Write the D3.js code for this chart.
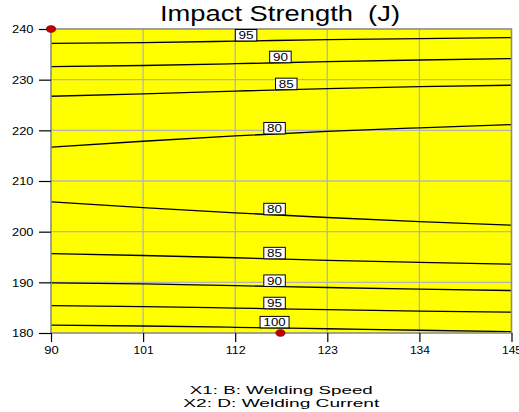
<!DOCTYPE html>
<html>
<head>
<meta charset="utf-8">
<script src="https://cdn.jsdelivr.net/npm/d3@7"></script>
<style>
  body { margin: 0; background: #fff; }
  svg { display: block; }
  text { font-family: "Liberation Sans", Arial, sans-serif; fill: #000; }
</style>
</head>
<body>
<svg id="chart" width="519" height="412"></svg>
<script>
// Axis ticks
const speedTicks = [90, 101, 112, 123, 134, 145];
const currentTicks = [180, 190, 200, 210, 220, 230, 240];

// Welding speeds at which each contour trace is sampled
const traceSpeeds = [90, 101, 112, 123, 134, 145];

// Impact strength contour levels (J), top to bottom
const contourLevels = [95, 90, 85, 80, 80, 85, 90, 95, 100];

// Welding current of each contour at the sampled speeds
const contourCurrents = [
  [237.18, 237.33, 237.60, 237.90, 238.12, 238.30],
  [232.56, 232.80, 233.15, 233.55, 233.88, 234.14],
  [226.73, 227.20, 227.75, 228.25, 228.62, 228.90],
  [216.67, 217.85, 218.90, 219.80, 220.50, 221.12],
  [205.88, 204.75, 203.72, 202.80, 202.00, 201.28],
  [195.68, 195.30, 194.85, 194.35, 193.95, 193.59],
  [189.90, 189.68, 189.35, 188.98, 188.64, 188.38],
  [185.42, 185.22, 184.92, 184.60, 184.32, 184.12],
  [181.54, 181.38, 181.13, 180.84, 180.54, 180.27]
];

// Speed at which each contour's value tag is placed
const labelSpeeds = [113.3, 117.4, 118.1, 116.7, 116.7, 116.7, 116.7, 116.7, 116.7];

// Design points (speed, current)
const designSpeeds = [90, 117.4];
const designCurrents = [240, 180];

const svg = d3.select("#chart");

const x = d3.scaleLinear().domain([90, 145]).range([51, 511.5]);
const y = d3.scaleLinear().domain([180, 240]).range([333, 29]);

// Plot background
svg.append("rect")
  .attr("x", x(90)).attr("y", y(240))
  .attr("width", x(145) - x(90)).attr("height", y(180) - y(240))
  .attr("fill", "#ffff00");

// Grid
const grid = svg.append("g").attr("stroke", "#b4b4b4").attr("stroke-width", 1.3);
grid.selectAll("line.v").data(speedTicks.slice(1, -1)).join("line")
  .attr("x1", d => x(d)).attr("x2", d => x(d))
  .attr("y1", y(240)).attr("y2", y(180));
grid.selectAll("line.h").data(currentTicks.slice(1, -1)).join("line")
  .attr("x1", x(90)).attr("x2", x(145))
  .attr("y1", d => y(d)).attr("y2", d => y(d));

// Contour traces
const line = d3.line()
  .x((d, i) => x(traceSpeeds[i]))
  .y(d => y(d))
  .curve(d3.curveMonotoneX);

svg.append("g")
  .selectAll("path").data(contourCurrents).join("path")
  .attr("d", line)
  .attr("fill", "none")
  .attr("stroke", "#000")
  .attr("stroke-width", 1.3);

// Plot frame
svg.append("rect")
  .attr("x", x(90)).attr("y", y(240))
  .attr("width", x(145) - x(90)).attr("height", y(180) - y(240))
  .attr("fill", "none")
  .attr("stroke", "#8c8c8c")
  .attr("stroke-width", 1.6);

// Contour value tags, resting on their trace
const currentAt = (row, s) => d3.scaleLinear().domain(traceSpeeds).range(row)(s);
const tags = svg.append("g").selectAll("g").data(contourLevels).join("g")
  .attr("transform", (d, i) => {
    const cx = x(labelSpeeds[i]);
    const cy = y(currentAt(contourCurrents[i], labelSpeeds[i]));
    return `translate(${cx},${cy})`;
  });
tags.append("rect")
  .attr("x", d => String(d).length > 2 ? -14.5 : -10.75)
  .attr("y", -11.5)
  .attr("width", d => String(d).length > 2 ? 29 : 21.5)
  .attr("height", 11.5)
  .attr("fill", "#fff")
  .attr("stroke", "#000")
  .attr("stroke-width", 1);
tags.append("text")
  .attr("text-anchor", "middle")
  .attr("y", -1.6)
  .attr("font-size", 10.5)
  .attr("textLength", d => String(d).length > 2 ? 22 : 15)
  .attr("lengthAdjust", "spacingAndGlyphs")
  .text(d => d);

// Y axis
const yAxis = svg.append("g")
  .attr("transform", `translate(${x(90)},0)`)
  .call(d3.axisLeft(y).tickValues(currentTicks).tickSize(12).tickPadding(5).tickFormat(d3.format("d")));
yAxis.select(".domain").remove();
yAxis.selectAll(".tick line").attr("stroke", "#000").attr("stroke-width", 1.2);
yAxis.selectAll(".tick text")
  .attr("x", -17.5)
  .attr("dy", "0.36em")
  .attr("font-size", 10.5)
  .attr("font-family", "Liberation Sans, Arial, sans-serif")
  .attr("textLength", 21.5)
  .attr("lengthAdjust", "spacingAndGlyphs");

// X axis
const xAxis = svg.append("g")
  .attr("transform", `translate(0,${y(180)})`)
  .call(d3.axisBottom(x).tickValues(speedTicks).tickSize(9).tickPadding(5).tickFormat(d3.format("d")));
xAxis.select(".domain").remove();
xAxis.selectAll(".tick line").attr("stroke", "#000").attr("stroke-width", 1.2);
xAxis.selectAll(".tick text")
  .attr("y", 20.7)
  .attr("dy", 0)
  .attr("font-size", 10.5)
  .attr("font-family", "Liberation Sans, Arial, sans-serif")
  .attr("textLength", d => String(d).length > 2 ? 20 : 14.5)
  .attr("lengthAdjust", "spacingAndGlyphs");

// Design points
svg.append("g").selectAll("ellipse").data(designSpeeds).join("ellipse")
  .attr("cx", d => x(d))
  .attr("cy", (d, i) => y(designCurrents[i]))
  .attr("rx", 4.5).attr("ry", 3.3)
  .attr("fill", "#c00000")
  .attr("stroke", "#7a0000")
  .attr("stroke-width", 0.8);

// Title
svg.append("text")
  .attr("x", 280).attr("y", 21)
  .attr("text-anchor", "middle")
  .attr("font-size", 22)
  .attr("textLength", 240)
  .attr("lengthAdjust", "spacingAndGlyphs")
  .text("Impact Strength\u00a0\u00a0(J)");

// Factor captions
const captions = ["X1: B: Welding Speed", "X2: D: Welding Current"];
const captionWidths = [183, 196];
const captionBaselines = [394.3, 406.7];
svg.append("g").selectAll("text").data(captions).join("text")
  .attr("x", 281.3)
  .attr("y", (d, i) => captionBaselines[i])
  .attr("text-anchor", "middle")
  .attr("font-size", 11)
  .attr("textLength", (d, i) => captionWidths[i])
  .attr("lengthAdjust", "spacingAndGlyphs")
  .text(d => d);
</script>
</body>
</html>
